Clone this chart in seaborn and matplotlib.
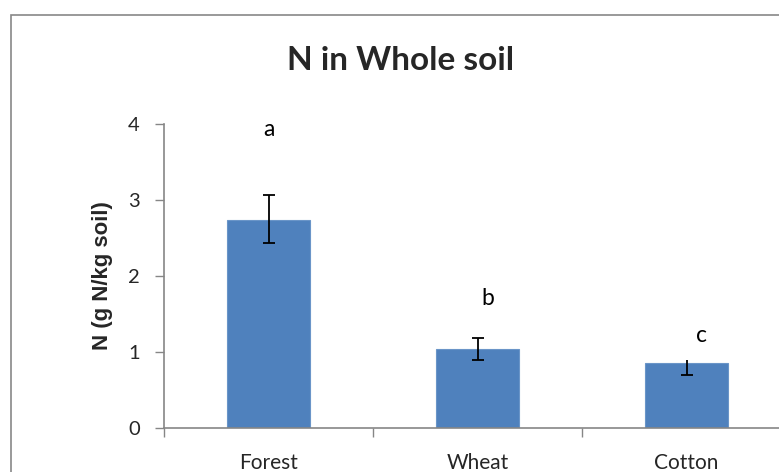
import matplotlib
matplotlib.use("Agg")
import matplotlib.pyplot as plt
import seaborn as sns
import pandas as pd
from matplotlib.patches import Rectangle

categories = ["Forest", "Wheat", "Cotton"]
values = [2.74, 1.04, 0.86]
err_lower = [0.31, 0.14, 0.16]
err_upper = [0.32, 0.14, 0.04]
upper_caps = [True, True, False]
sig_letters = ["a", "b", "c"]
letter_y = [3.93, 1.70, 1.22]
letter_dx = [0.0, 0.05, 0.07]
y_ticks = [0, 1, 2, 3, 4]
title = "N in Whole soil"
ylabel = "N (g N/kg soil)"

sns.set_style("white")
plt.rcParams["font.family"] = ["Lato", "DejaVu Sans"]

df = pd.DataFrame({"crop": categories, "N": values})

fig = plt.figure(figsize=(7.79, 4.72), dpi=100)
ax = fig.add_axes([164 / 779, 1 - 428 / 472, 627 / 779, 304 / 472])

bar_color = "#4F81BD"
sns.barplot(data=df, x="crop", y="N", order=categories, color=bar_color,
            width=0.4, saturation=1, errorbar=None, ax=ax,
            edgecolor="#6A95C8", linewidth=0.8)

gray = "#868686"
for i, (v, lo, hi, cap) in enumerate(zip(values, err_lower, err_upper, upper_caps)):
    _, caps, _ = ax.errorbar([i], [v], yerr=[[lo], [hi]], fmt="none",
                             ecolor="black", elinewidth=1.3, capsize=4.3,
                             capthick=1.3, zorder=5)
    if not cap and len(caps) == 2:
        caps[1].set_visible(False)

for i, (t, yy, dx) in enumerate(zip(sig_letters, letter_y, letter_dx)):
    ax.text(i + dx, yy, t, ha="center", va="center", fontsize=16.5, color="black")

ax.set_xlim(-0.5, len(categories) - 0.5)
ax.set_ylim(0, 4)
ax.set_yticks(y_ticks)
ax.set_yticklabels([str(t) for t in y_ticks])
ax.set_xticks([k - 0.5 for k in range(len(categories) + 1)])
ax.set_xticklabels([])
ax.set_xticks(range(len(categories)), minor=True)
ax.set_xticklabels(categories, minor=True)
ax.tick_params(axis="x", which="minor", length=0, pad=18, labelsize=15)
ax.tick_params(axis="x", which="major", direction="out", length=6.5,
               width=1, color=gray, bottom=True)
ax.tick_params(axis="y", direction="out", length=6.5, width=1, color=gray,
               left=True, pad=11, labelsize=14.5)
ax.set_xlabel("")
ax.set_ylabel(ylabel, fontsize=16, fontweight="bold",
              family=["Liberation Sans", "DejaVu Sans"], labelpad=11)

for side in ["top", "right"]:
    ax.spines[side].set_visible(False)
for side in ["left", "bottom"]:
    ax.spines[side].set_color(gray)
    ax.spines[side].set_linewidth(1.2)

fig.text(401 / 779, 1 - 60 / 472, title, ha="center", va="center",
         fontsize=24, fontweight="bold")

frame = Rectangle((11 / 779, -0.1), 1.2, 1 - 15 / 472 + 0.1,
                  transform=fig.transFigure, fill=False,
                  edgecolor="#878787", linewidth=1.2, zorder=10)
fig.add_artist(frame)

fig.savefig("out.png", dpi=100)
